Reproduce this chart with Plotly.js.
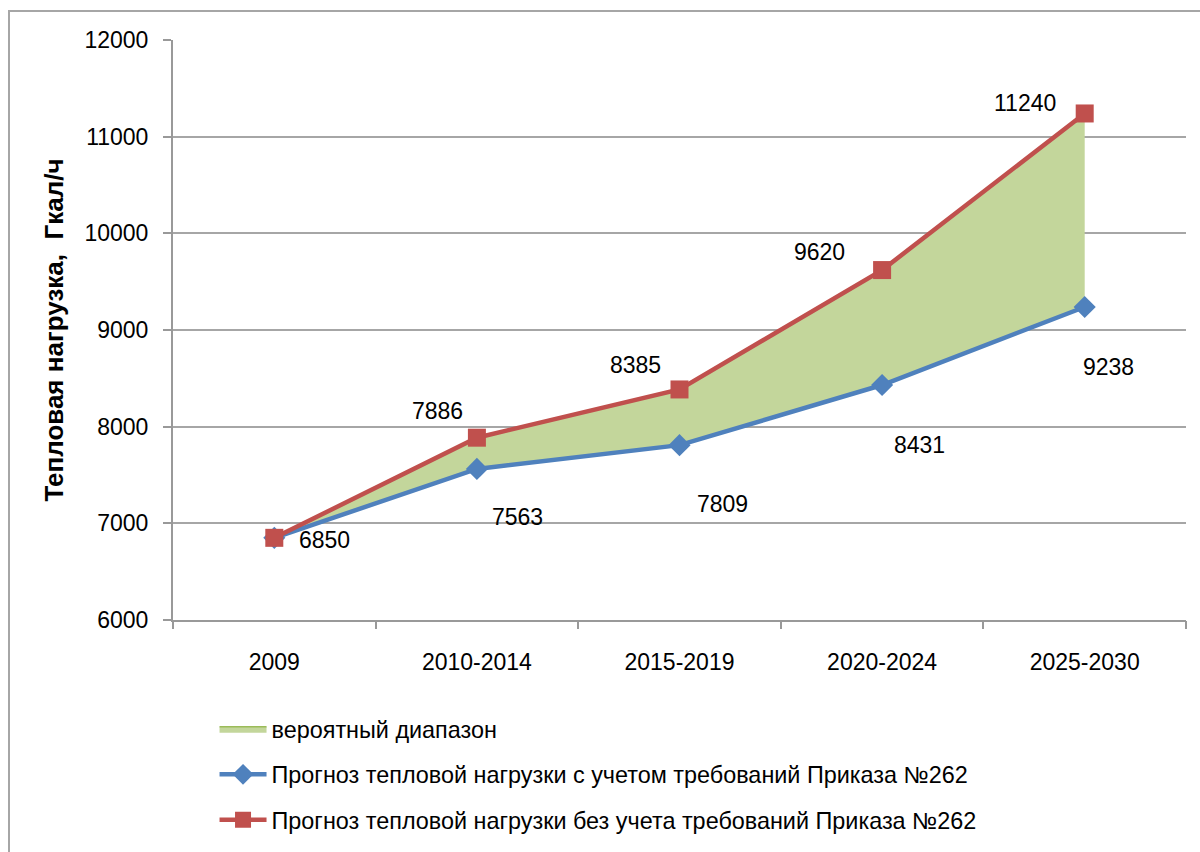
<!DOCTYPE html>
<html>
<head>
<meta charset="utf-8">
<script src="https://cdn.plot.ly/plotly-3.0.1.min.js"></script>
<style>
  html, body { margin: 0; padding: 0; background: #fff; }
  #frame { position: absolute; left: 8px; top: 10px; width: 1300px; height: 900px;
           border-top: 2px solid #a6a6a6; border-left: 2px solid #a6a6a6; }
  #chart { position: absolute; left: 0; top: 0; width: 1200px; height: 852px; }
</style>
</head>
<body>
<div id="frame"></div>
<div id="chart"></div>
<script>
// periods on the x axis
const periods = ['2009', '2010-2014', '2015-2019', '2020-2024', '2025-2030'];
// forecast with the requirements of Order No. 262 (blue)
const withOrder = [6850, 7563, 7809, 8431, 9238];
// forecast without the requirements (red)
const withoutOrder = [6850, 7886, 8385, 9620, 11240];

const nameRange = 'вероятный диапазон';
const nameWith = 'Прогноз тепловой нагрузки с учетом требований Приказа №262';
const nameWithout = 'Прогноз тепловой нагрузки без учета требований Приказа №262';

// label pixel offsets (Excel put them by hand)
const redShift = [null, [-39, 27], [-44, 24], [-63, 18], [-60, 10]];
const blueShift = [[50, -2], [41, -48], [43, -59], [37, -60], [24, -60]];

const xi = periods.map((p, i) => i);
const bounds = periods.map((p, i) => i - 0.5).concat([periods.length - 0.5]);

const FONT = '"Liberation Sans", Arial, sans-serif';
const labelFont = { family: FONT, size: 23, color: '#000' };

// invisible lower edge for the band
const base = {
  x: xi, y: withOrder, type: 'scatter', mode: 'lines',
  line: { width: 0, color: 'rgba(0,0,0,0)' },
  showlegend: false, hoverinfo: 'skip'
};

const band = {
  x: xi, y: withoutOrder, type: 'scatter', mode: 'lines',
  fill: 'tonexty', fillcolor: '#c3d69b',
  line: { color: '#9bbb59', width: 1.5 },
  name: nameRange, legendgroup: 'a', hoverinfo: 'skip'
};

const blue = {
  x: xi, y: withOrder, type: 'scatter', mode: 'lines+markers',
  name: nameWith, legendgroup: 'b',
  line: { color: '#4f81bd', width: 4.5 },
  marker: { symbol: 'diamond', size: 17, color: '#4f81bd' }
};

const red = {
  x: xi, y: withoutOrder, type: 'scatter', mode: 'lines+markers',
  name: nameWithout, legendgroup: 'c',
  line: { color: '#c0504d', width: 4.5 },
  marker: { symbol: 'square', size: 18, color: '#c0504d' }
};

// carries the boundary ticks of the category axis
const tickCarrier = {
  x: bounds, y: bounds.map(() => 6000), xaxis: 'x2', type: 'scatter', mode: 'none',
  showlegend: false, hoverinfo: 'skip'
};

const annotations = [];
xi.forEach(i => {
  if (redShift[i]) {
    annotations.push({ x: i, y: withoutOrder[i], text: String(withoutOrder[i]), showarrow: false,
      xshift: redShift[i][0], yshift: redShift[i][1], font: labelFont });
  }
  annotations.push({ x: i, y: withOrder[i], text: String(withOrder[i]), showarrow: false,
    xshift: blueShift[i][0], yshift: blueShift[i][1], font: labelFont });
});

const layout = {
  width: 1200,
  height: 852,
  margin: { l: 173, r: 14, t: 40, b: 232 },
  paper_bgcolor: 'rgba(0,0,0,0)',
  plot_bgcolor: 'rgba(0,0,0,0)',
  font: { family: FONT, size: 23, color: '#000' },
  showlegend: true,
  legend: {
    xref: 'paper', yref: 'container',
    x: 0.041, y: 0.170, xanchor: 'left', yanchor: 'top',
    orientation: 'v',
    font: { family: FONT, size: 23.4, color: '#000' },
    itemwidth: 47,
    tracegroupgap: 12,
    bgcolor: 'rgba(0,0,0,0)'
  },
  xaxis: {
    range: [-0.5, periods.length - 0.5],
    tickvals: xi,
    ticktext: periods,
    ticks: '',
    showline: true,
    linecolor: '#999',
    linewidth: 2,
    showgrid: false,
    zeroline: false,
    ticklabelstandoff: 20,
    tickfont: labelFont,
    fixedrange: true
  },
  xaxis2: {
    overlaying: 'x',
    anchor: 'y',
    side: 'bottom',
    range: [-0.5, periods.length - 0.5],
    tickvals: bounds,
    showticklabels: false,
    ticks: 'outside',
    ticklen: 8,
    tickwidth: 2,
    tickcolor: '#999',
    showline: false,
    showgrid: false,
    zeroline: false,
    fixedrange: true
  },
  yaxis: {
    range: [6000, 12000],
    dtick: 1000,
    ticks: 'outside',
    ticklen: 8,
    tickwidth: 2,
    tickcolor: '#999',
    showline: true,
    linecolor: '#999',
    linewidth: 2,
    showgrid: true,
    gridcolor: '#a6a6a6',
    gridwidth: 2,
    zeroline: false,
    tickformat: 'd',
    ticklabelstandoff: 10,
    tickfont: labelFont,
    title: {
      text: 'Тепловая нагрузка,  Гкал/ч',
      font: { family: FONT, size: 26, color: '#000', weight: 'bold' },
      standoff: 13
    },
    fixedrange: true
  },
  annotations: annotations
};

Plotly.newPlot('chart', [tickCarrier, base, band, blue, red], layout, { displayModeBar: false, staticPlot: true });
</script>
</body>
</html>
